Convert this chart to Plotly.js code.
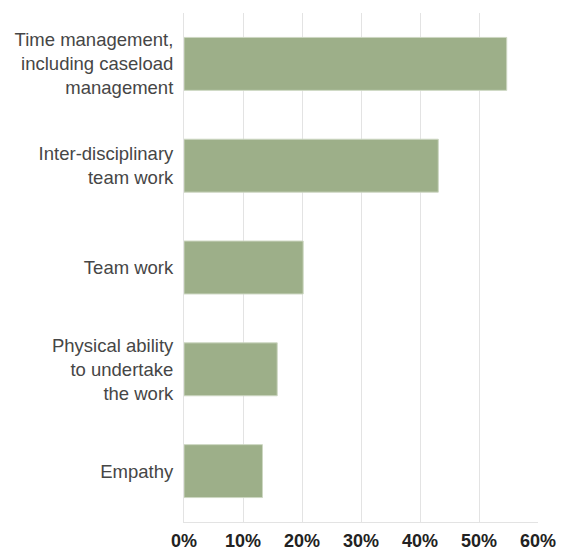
<!DOCTYPE html>
<html>
<head>
<meta charset="utf-8">
<script src="https://cdn.plot.ly/plotly-3.0.1.min.js"></script>
<style>html,body{margin:0;padding:0;background:#fff;}#chart{width:562px;height:551px;}</style>
</head>
<body>
<div id="chart"></div>
<script>
// Data
var categories = [
  "Time management,<br>including caseload<br>management",
  "Inter-disciplinary<br>team work",
  "Team work",
  "Physical ability<br>to undertake<br>the work",
  "Empathy"
];
var values = [54.7, 43.1, 20.2, 15.8, 13.3];
var tickValues = [0, 10, 20, 30, 40, 50, 60];
var tickLabels = ["0%", "10%", "20%", "30%", "40%", "50%", "60%"];

var trace = {
  type: "bar",
  orientation: "h",
  x: values,
  y: categories,
  marker: {color: "#9daf89", line: {color: "#cdd7c2", width: 1}},
  hoverinfo: "skip"
};

var layout = {
  width: 562, height: 551,
  margin: {l: 184, r: 24, t: 13, b: 29, pad: 0},
  paper_bgcolor: "#ffffff", plot_bgcolor: "#ffffff",
  showlegend: false,
  bargap: 0.48,
  xaxis: {
    range: [0, 60],
    tickvals: tickValues,
    ticktext: tickLabels,
    showgrid: true, gridcolor: "#e3e3e3", gridwidth: 1,
    showline: true, linecolor: "#e3e3e3", linewidth: 1,
    zeroline: false,
    ticks: "",
    ticklabelstandoff: 2,
    tickfont: {family: "Liberation Sans, Arial, sans-serif", size: 18, color: "#222222", weight: "bold"},
    fixedrange: true
  },
  yaxis: {
    type: "category",
    autorange: "reversed",
    showticklabels: true,
    showgrid: false,
    showline: true, linecolor: "#e3e3e3", linewidth: 1,
    zeroline: false,
    ticks: "",
    ticklabelstandoff: 6,
    tickfont: {family: "Liberation Sans, Arial, sans-serif", size: 18.5, color: "#464646"},
    fixedrange: true
  }
};

Plotly.newPlot("chart", [trace], layout, {displayModeBar: false, staticPlot: true});
</script>
</body>
</html>
